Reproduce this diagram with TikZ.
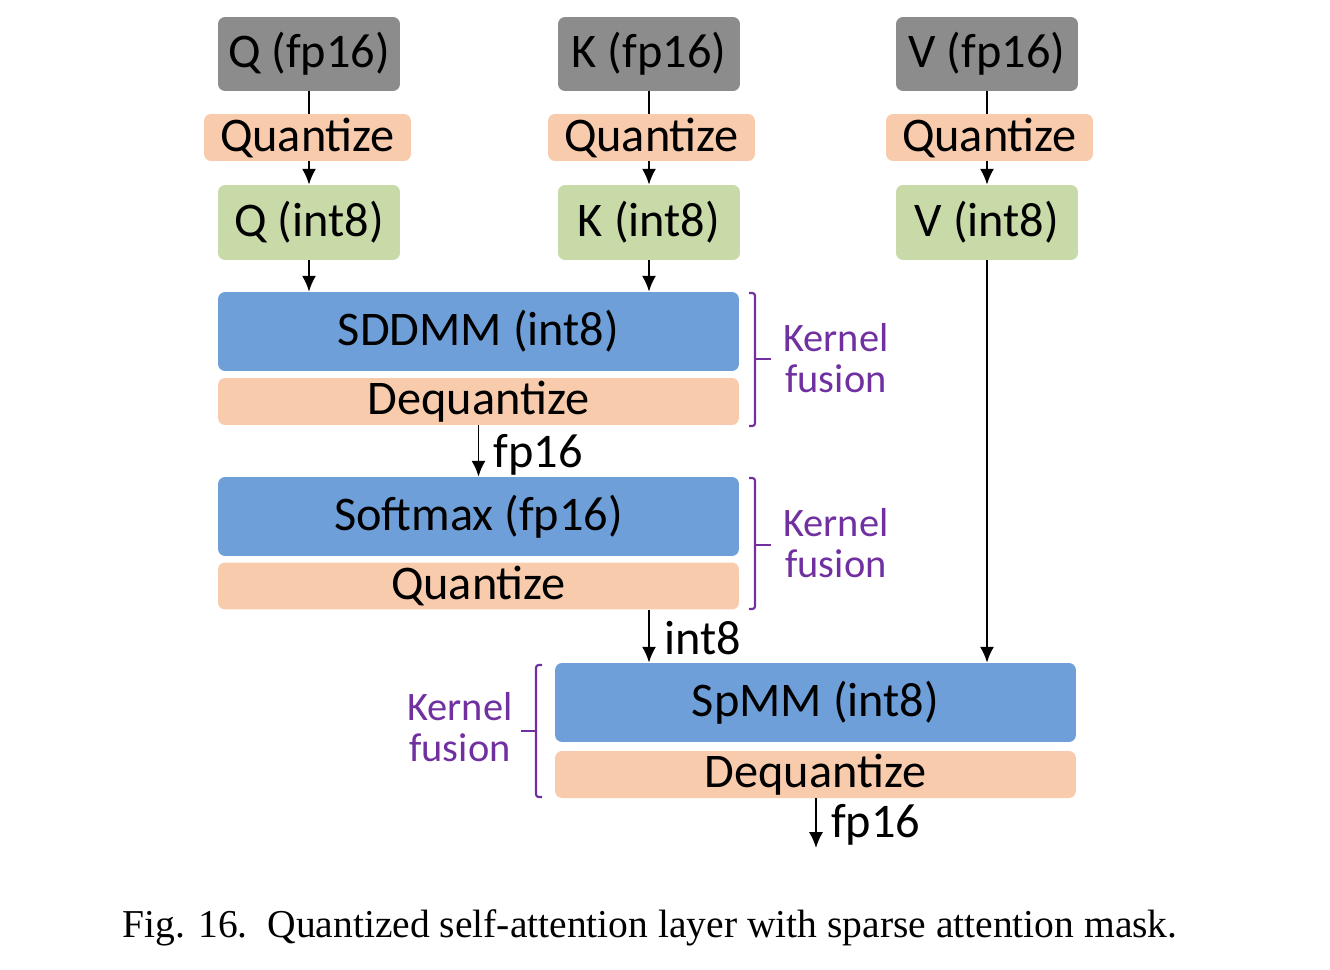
\documentclass[tikz,border=0pt]{standalone}
\usepackage{fontspec}
\setmainfont{Carlito}
\newfontfamily\capfont{Liberation Serif}
\usepackage{xcolor}
\usetikzlibrary{arrows.meta}
\definecolor{boxgray}{HTML}{8C8C8C}
\definecolor{boxorange}{HTML}{F8CBAD}
\definecolor{boxgreen}{HTML}{C9DAA9}
\definecolor{boxblue}{HTML}{6F9FD9}
\definecolor{fusepurple}{HTML}{7030A0}
\tikzset{>={Latex[length=9pt,width=8pt]}}
\tikzset{
  blk/.style={rounded corners=4pt, inner sep=0pt, font=\fontsize{27.5}{30}\selectfont},
  fpbox/.style={blk, fill=boxgray, minimum width=3.64cm, minimum height=1.48cm},
  quantbox/.style={blk, fill=boxorange, minimum width=4.14cm, minimum height=0.94cm},
  intbox/.style={blk, fill=boxgreen, minimum width=3.64cm, minimum height=1.5cm},
  opbox/.style={blk, fill=boxblue, minimum width=10.42cm, minimum height=1.58cm},
  postbox/.style={blk, fill=boxorange, minimum width=10.42cm, minimum height=0.94cm},
  flow/.style={line width=1.1pt},
  dtype/.style={anchor=west, inner sep=0pt, font=\fontsize{27.5}{30}\selectfont},
  fuse/.style={draw=fusepurple, line width=1.2pt, rounded corners=1.5pt},
  fusetext/.style={text=fusepurple, align=center, inner sep=0pt, font=\fontsize{23}{23.5}\selectfont}
}

\begin{document}
\begin{tikzpicture}[x=0.02cm, y=-0.02cm]
  \useasboundingbox (0, 0) rectangle (1330, 970);
  % inputs
  \node[fpbox] (qfp) at (309, 54) {Q (fp16)};
  \node[fpbox] (kfp) at (649, 54) {K (fp16)};
  \node[fpbox] (vfp) at (987, 54) {V (fp16)};
  \node[quantbox] (qquant) at (307.5, 137.5) {Quantize};
  \node[quantbox] (kquant) at (651.5, 137.5) {Quantize};
  \node[quantbox] (vquant) at (989.5, 137.5) {Quantize};
  \node[intbox] (qint) at (309, 222.5) {Q (int8)};
  \node[intbox] (kint) at (649, 222.5) {K (int8)};
  \node[intbox] (vint) at (987, 222.5) {V (int8)};
  % fused kernels
  \node[opbox] (sddmm) at (478.5, 331.5) {SDDMM (int8)};
  \node[postbox] (deq1) at (478.5, 401.5) {Dequantize};
  \node[opbox] (softmax) at (478.5, 516.5) {Softmax (fp16)};
  \node[postbox] (quant2) at (478.5, 586) {Quantize};
  \node[opbox] (spmm) at (815.5, 702.5) {SpMM (int8)};
  \node[postbox] (deq2) at (815.5, 774.5) {Dequantize};
  \coordinate (out) at (816, 848);
  % connectors
  \foreach \a/\b/\c in {qfp/qquant/qint, kfp/kquant/kint, vfp/vquant/vint} {
    \draw[flow] (\a.south) -- (\a.south |- \b.north);
    \draw[flow, ->] (\a.south |- \b.south) -- (\c.north);
  }
  \draw[flow, ->] (qint.south) -- (qint.south |- sddmm.north);
  \draw[flow, ->] (kint.south) -- (kint.south |- sddmm.north);
  \draw[flow, ->] (vint.south) -- (vint.south |- spmm.north);
  \draw[flow, ->] (deq1.south) -- (softmax.north)
    node[dtype, midway, xshift=8pt, yshift=-2pt] {fp16};
  \draw[flow, ->] (kint.south |- quant2.south) -- (kint.south |- spmm.north)
    node[dtype, midway, xshift=8pt, yshift=-1pt] {int8};
  \draw[flow, ->] (deq2.south -| out) -- (out)
    node[dtype, midway, xshift=8pt, yshift=-1pt] {fp16};
  % kernel fusion brackets
  \draw[fuse] (749, 293) -- (755, 293) -- (755, 426) -- (749, 426);
  \draw[fuse] (755, 359) -- (771, 359);
  \node[fusetext] (fuse1) at (836, 358) {Kernel\\fusion};
  \draw[fuse] (749, 478) -- (755, 478) -- (755, 609) -- (749, 609);
  \draw[fuse] (755, 545) -- (771, 545);
  \node[fusetext] (fuse2) at (836, 543) {Kernel\\fusion};
  \draw[fuse] (542, 665) -- (536, 665) -- (536, 797) -- (542, 797);
  \draw[fuse] (536, 731) -- (521, 731);
  \node[fusetext] (fuse3) at (460, 727) {Kernel\\fusion};
  % caption
  \node[inner sep=0pt, font=\capfont\fontsize{22.5}{24}\selectfont] (cap) at (650, 928)
    {Fig. 16.\ \ Quantized self-attention layer with sparse attention mask.};
\end{tikzpicture}
\end{document}
